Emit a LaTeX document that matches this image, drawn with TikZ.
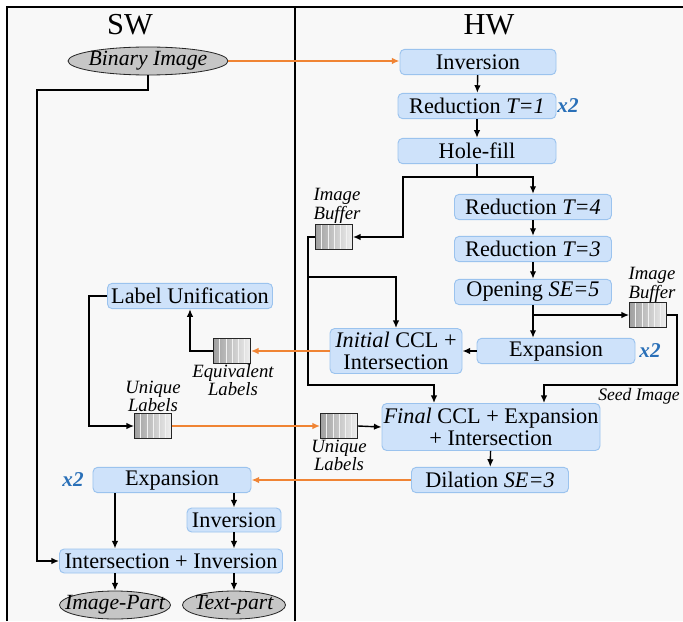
\documentclass[tikz,border=0pt]{standalone}
\usepackage{fontspec}
\setmainfont{Liberation Serif}
\usepackage{tikz}
\usetikzlibrary{shapes.geometric,arrows.meta}
\definecolor{boxfill}{RGB}{206,226,250}
\definecolor{boxline}{RGB}{155,195,238}
\definecolor{flow}{RGB}{240,132,52}
\definecolor{repblue}{RGB}{42,112,184}
\definecolor{pane}{RGB}{248,248,248}

\begin{document}
\begin{tikzpicture}[x = 0.03cm, y = -0.03cm, line width = 1.2pt,
  box/.style = {draw = boxline, fill = boxfill, line width = 0.8pt, rounded corners = 4pt,
    minimum height = 0.76cm, inner sep = 1pt, align = center,
    font = \fontsize{19}{18.5}\selectfont},
  term/.style = {ellipse, draw = gray!30!black, fill = gray!45, line width = 0.7pt,
    inner xsep = -14pt, inner ysep = -3pt, minimum height = 0.84cm,
    font = \fontsize{18.5}{18.5}\selectfont\itshape},
  buf/.style = {draw = gray!30!black, line width = 0.7pt, left color = gray!75, right color = gray!12,
    minimum width = 1.11cm, minimum height = 0.75cm, inner sep = 0pt,
    path picture = {\foreach \i in {1,...,5}{\draw[gray!10, line width = 0.6pt]
      ([xshift = \i*5.3pt]path picture bounding box.south west) --
      ([xshift = \i*5.3pt]path picture bounding box.north west);}}},
  note/.style = {align = center, font = \fontsize{16}{13.5}\selectfont\itshape},
  times/.style = {text = repblue, font = \fontsize{18}{18}\selectfont\bfseries\itshape},
  head/.style = {font = \fontsize{26}{26}\selectfont},
  arr/.style = {-{Latex[length = 6.5pt, width = 5.5pt]}, black},
  oarr/.style = {-{Latex[length = 6.5pt, width = 5.5pt]}, flow, line width = 1.3pt}]

\useasboundingbox (0,0) rectangle (683,621);
\fill[white] (0,0) rectangle (683,621);
\fill[pane] (7,7) rectangle (683,621);
\draw[line width = 2.2pt] (7,621) -- (7,7) -- (683,7);
\draw[line width = 1.3pt] (295,7) -- (295,621);

\draw (130,25) node[head](sw){SW}
    (489,25) node[head](hw){HW};

% hardware side
\draw (478,62) node[box, minimum width = 4.68cm](h1){Inversion}
    (477,106) node[box, minimum width = 4.74cm](h2){Reduction \textit{T=1}}
    (477,151) node[box, minimum width = 4.74cm](h3){Hole-fill}
    (533,207) node[box, minimum width = 4.71cm](h4){Reduction \textit{T=4}}
    (533,249) node[box, minimum width = 4.71cm](h5){Reduction \textit{T=3}}
    (533,292) node[box, minimum width = 4.71cm](h6){Opening \textit{SE=5}}
    (556,351) node[box, minimum width = 4.74cm](h7){Expansion}
    (396,351) node[box, minimum width = 3.96cm, minimum height = 1.35cm](h8){\textit{Initial} CCL +\\Intersection}
    (491,427) node[box, minimum width = 6.54cm, minimum height = 1.41cm](h9){\textit{Final} CCL + Expansion\\+ Intersection}
    (490,480) node[box, minimum width = 4.71cm](h10){Dilation \textit{SE=3}};
\draw (568,106) node[times](x1){x2}
    (650,351) node[times](x2){x2}
    (73,480) node[times](x3){x2};

% software side
\draw (148,61) node[term, minimum width = 4.8cm](s0){Binary Image}
    (190,296) node[box, minimum width = 4.95cm](s1){Label Unification}
    (172,480) node[box, minimum width = 4.74cm](s2){Expansion}
    (234,520) node[box, minimum width = 2.82cm, minimum height = 0.72cm](s3){Inversion}
    (171,561) node[box, minimum width = 6.69cm, minimum height = 0.72cm](s4){Intersection + Inversion}
    (115,605) node[term, minimum width = 3.33cm](s5){Image-Part}
    (234,605) node[term, minimum width = 3.09cm](s6){Text-part};

% buffers
\draw (334,237) node[buf](b1){}
    (648,315) node[buf](b2){}
    (232,351) node[buf](b3){}
    (153,426) node[buf](b4){}
    (339,426) node[buf](b5){};
\draw (337,206) node[note](l1){Image\\Buffer}
    (652,285) node[note](l2){Image\\Buffer}
    (233,380) node[note](l3){Equivalent\\Labels}
    (153,396) node[note](l4){Unique\\Labels}
    (339,455) node[note](l5){Unique\\Labels}
    (639,396) node[note, font = \fontsize{15}{13.5}\selectfont\itshape, inner xsep = 1pt](l6){Seed Image};

\coordinate (c1) at (477,177);
\coordinate (c2) at (403,237);
\coordinate (c3) at (308,385);
\coordinate (c4) at (434,385);
\coordinate (c5) at (308,277);
\coordinate (c6) at (533,315);
\coordinate (c7) at (677,385);
\coordinate (c8) at (544,385);
\coordinate (c9) at (89,426);
\coordinate (c10) at (37,90);

\draw [oarr] (s0.east) -- (s0.east -| h1.west);
\draw [arr] (h1) -- (h2);
\draw [arr] (h2) -- (h3);
\draw [arr] (h3.south) -- (c1) -| (h4.north);
\draw [arr] (c1) -| (c2) -- (b1.east);
\draw [arr] (h4) -- (h5);
\draw [arr] (h5) -- (h6);
\draw [arr] (h6.south) -- (h6.south |- h7.north);
\draw [arr] (c6) -- (b2.west);
\draw [arr] (b1.west) -| (c3) -- (c4) -- (c4 |- h9.north);
\draw [arr] (c5) -| (h8.north);
\draw [arr] (b2.east) -| (c7) -- (c8) -- (c8 |- h9.north);
\draw [arr] (h7.west) -- (h8.east);
\draw [oarr] (h8.west) -- (b3.east);
\draw [arr] (b3.west) -| (s1.south);
\draw [arr] (s1.west) -| (c9) -- (b4.west);
\draw [oarr] (b4.east) -- (b5.west);
\draw [arr] (b5.east) -- (h9.west);
\draw [arr] (h9) -- (h10);
\draw [oarr] (h10.west) -- (s2.east);
\draw [arr] (s2.south -| s5) -- (s4.north -| s5);
\draw [arr] (s2.south -| s3) -- (s3.north);
\draw [arr] (s3) -- (s4.north -| s3);
\draw [arr] (s0.south) |- (c10) |- (s4.west);
\draw [arr] (s4.south -| s5) -- (s5.north);
\draw [arr] (s4.south -| s6) -- (s6.north);
\end{tikzpicture}
\end{document}
